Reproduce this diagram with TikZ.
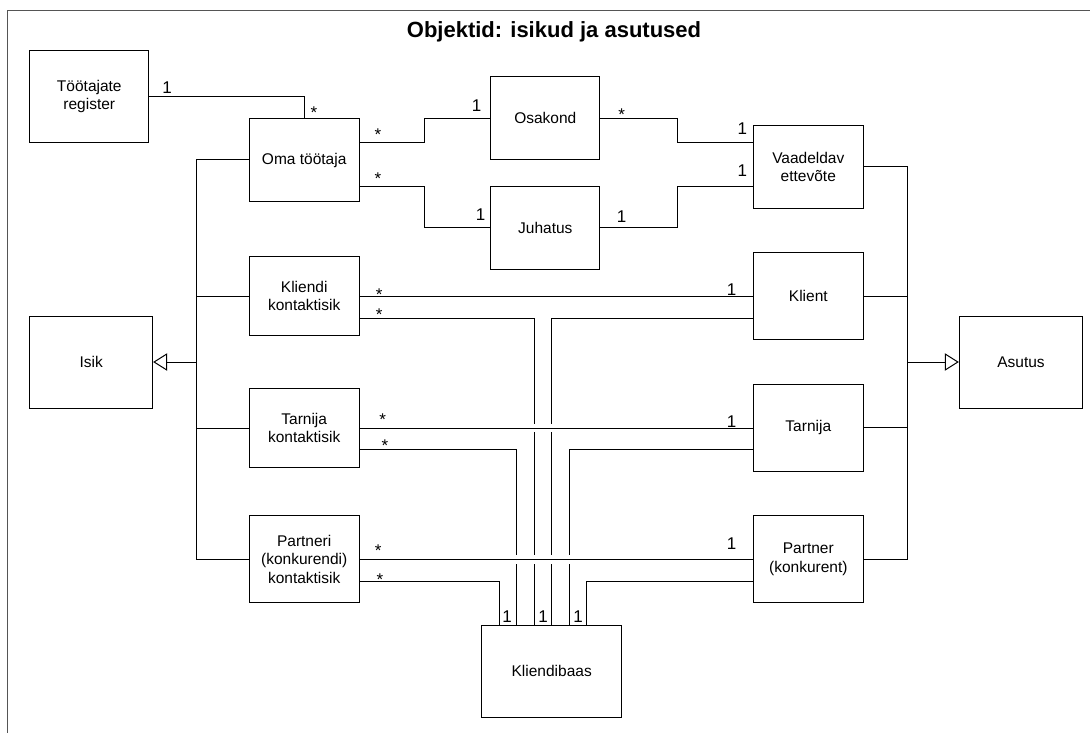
\documentclass[tikz,border=0pt]{standalone}
\usepackage{fontspec}
\setmainfont{Liberation Sans}
\usetikzlibrary{arrows.meta}
\definecolor{framegray}{RGB}{85,85,85}
\begin{document}
\begin{tikzpicture}[x=1pt,y=-1pt,
  box/.style={draw=black, line width=1pt, align=center, inner sep=0pt,
    font=\fontsize{15.5}{18.5}\selectfont},
  wire/.style={line width=1pt, black},
  mult/.style={anchor=base, inner sep=0pt, font=\fontsize{17}{20}\selectfont},
  gen/.style={wire, -{Triangle[open, length=14pt, width=17.4pt, line width=1pt]}},
  halo/.style={white, line width=8.6pt, shorten <=2pt, shorten >=2pt}
]
\useasboundingbox (0,0) rectangle (1090,733);
\fill[white] (0,0) rectangle (1090,733);

% outer frame (only its top and left edges fall inside the page)
\draw[framegray, line width=1.3pt] (1100,10.7) -- (7.5,10.7) -- (7.5,745);

% title
\node[anchor=base, font=\bfseries\fontsize{22}{26}\selectfont] (title) at (554,38)
  {Objektid: isikud ja asutused};

% classes
\node[box, minimum width=118.7pt, minimum height=92pt]   (reg)     at (89.3,96.7)  {Töötajate\\register};
\node[box, minimum width=109.7pt, minimum height=83.4pt] (oma)     at (304.2,160)  {Oma töötaja};
\node[box, minimum width=109.3pt, minimum height=83.3pt] (osak)    at (545.3,118.3) {Osakond};
\node[box, minimum width=109.3pt, minimum height=83.3pt] (juh)     at (545.3,227.7) {Juhatus};
\node[box, minimum width=110pt,   minimum height=83pt]   (vaad)    at (808.3,166.8) {Vaadeldav\\ettevõte};
\node[box, minimum width=109.7pt, minimum height=79pt]   (kkont)   at (304.2,296.2) {Kliendi\\kontaktisik};
\node[box, minimum width=122.7pt, minimum height=92pt]   (isik)    at (91.3,362)   {Isik};
\node[box, minimum width=109.7pt, minimum height=78.6pt] (tkont)   at (304.2,428)  {Tarnija\\kontaktisik};
\node[box, minimum width=109.7pt, minimum height=87.3pt] (pkont)   at (304.2,559.3) {Partneri\\(konkurendi)\\kontaktisik};
\node[box, minimum width=110pt,   minimum height=87.4pt] (klient)  at (808.3,296)  {Klient};
\node[box, minimum width=123.4pt, minimum height=92pt]   (asutus)  at (1021,362)   {Asutus};
\node[box, minimum width=110pt,   minimum height=87.3pt] (tarn)    at (808.3,427.7) {Tarnija};
\node[box, minimum width=110pt,   minimum height=87.3pt] (partner) at (808.3,559.3) {Partner\\(konkurent)};
\node[box, minimum width=140pt,   minimum height=92.3pt] (kbaas)   at (551.7,671.2) {Kliendibaas};

% generalisation buses
\coordinate (lb) at (196.7,362);
\coordinate (rb) at (907.3,362);
\draw[wire] (oma.west) -| (lb);
\draw[wire] (pkont.west) -| (lb);
\draw[wire] (kkont.west) -- (kkont.west -| lb);
\draw[wire] (tkont.west) -- (tkont.west -| lb);
\draw[gen] (lb) -- (isik.east);
\draw[wire] (vaad.east) -| (rb);
\draw[wire] (partner.east) -| (rb);
\draw[wire] (klient.east) -- (klient.east -| rb);
\draw[wire] (tarn.east) -- (tarn.east -| rb);
\draw[gen] (rb) -- (asutus.west);

% upper associations
\draw[wire] (reg.east) -| (oma.north);
\draw[wire] ([yshift=17.3pt]oma.east) -- ++(65.3,0) |- (osak.west);
\draw[wire] ([yshift=-26.7pt]oma.east) -- ++(65.3,0) |- (juh.west);
\draw[wire] (osak.east) -- ++(76.7,0) |- ([yshift=24.1pt]vaad.west);
\draw[wire] (juh.east) -- ++(76.7,0) |- ([yshift=-19.2pt]vaad.west);

% links down to Kliendibaas
\draw[wire] ([yshift=-21.8pt]kkont.east) -| ([xshift=-17.4pt]kbaas.north);
\draw[wire] ([yshift=-22.3pt]klient.west) -| (kbaas.north);
\draw[wire] ([yshift=-21.7pt]tkont.east) -| ([xshift=-35pt]kbaas.north);
\draw[wire] ([yshift=-22pt]tarn.west) -| ([xshift=17.6pt]kbaas.north);
\draw[wire] ([yshift=-21.7pt]pkont.east) -| ([xshift=-52.7pt]kbaas.north);
\draw[wire] ([yshift=-21.7pt]partner.west) -| ([xshift=35pt]kbaas.north);

% contact person to organisation, with hops over the vertical links
\draw[wire] (kkont.east) -- (kkont.east -| klient.west);
\draw[halo] (tkont.east) -- (tkont.east -| tarn.west);
\draw[wire] (tkont.east) -- (tkont.east -| tarn.west);
\draw[halo] (pkont.east) -- (pkont.east -| partner.west);
\draw[wire] (pkont.east) -- (pkont.east -| partner.west);

% multiplicities
\node[mult] (m1)  at (167,93.1)   {1};
\node[mult] (m2)  at (314,118.9)  {*};
\node[mult] (m3)  at (378,140.9)  {*};
\node[mult] (m4)  at (476.7,111.1) {1};
\node[mult] (m5)  at (378,184.9)  {*};
\node[mult] (m6)  at (480.7,220.4) {1};
\node[mult] (m7)  at (621.7,120.9) {*};
\node[mult] (m8)  at (742.3,134.4) {1};
\node[mult] (m9)  at (621.7,222.8) {1};
\node[mult] (m10) at (742.3,176.8) {1};
\node[mult] (m11) at (379.3,300.9) {*};
\node[mult] (m12) at (379.3,320.9) {*};
\node[mult] (m13) at (731.7,295.4) {1};
\node[mult] (m14) at (382.7,425.9) {*};
\node[mult] (m15) at (385,451.9)  {*};
\node[mult] (m16) at (731.7,427.1) {1};
\node[mult] (m17) at (378.3,556.6) {*};
\node[mult] (m18) at (380,585.9)  {*};
\node[mult] (m19) at (731.7,549.4) {1};
\node[mult] (m20) at (507,622)   {1};
\node[mult] (m21) at (543,622)   {1};
\node[mult] (m22) at (578,622)   {1};
\end{tikzpicture}
\end{document}
